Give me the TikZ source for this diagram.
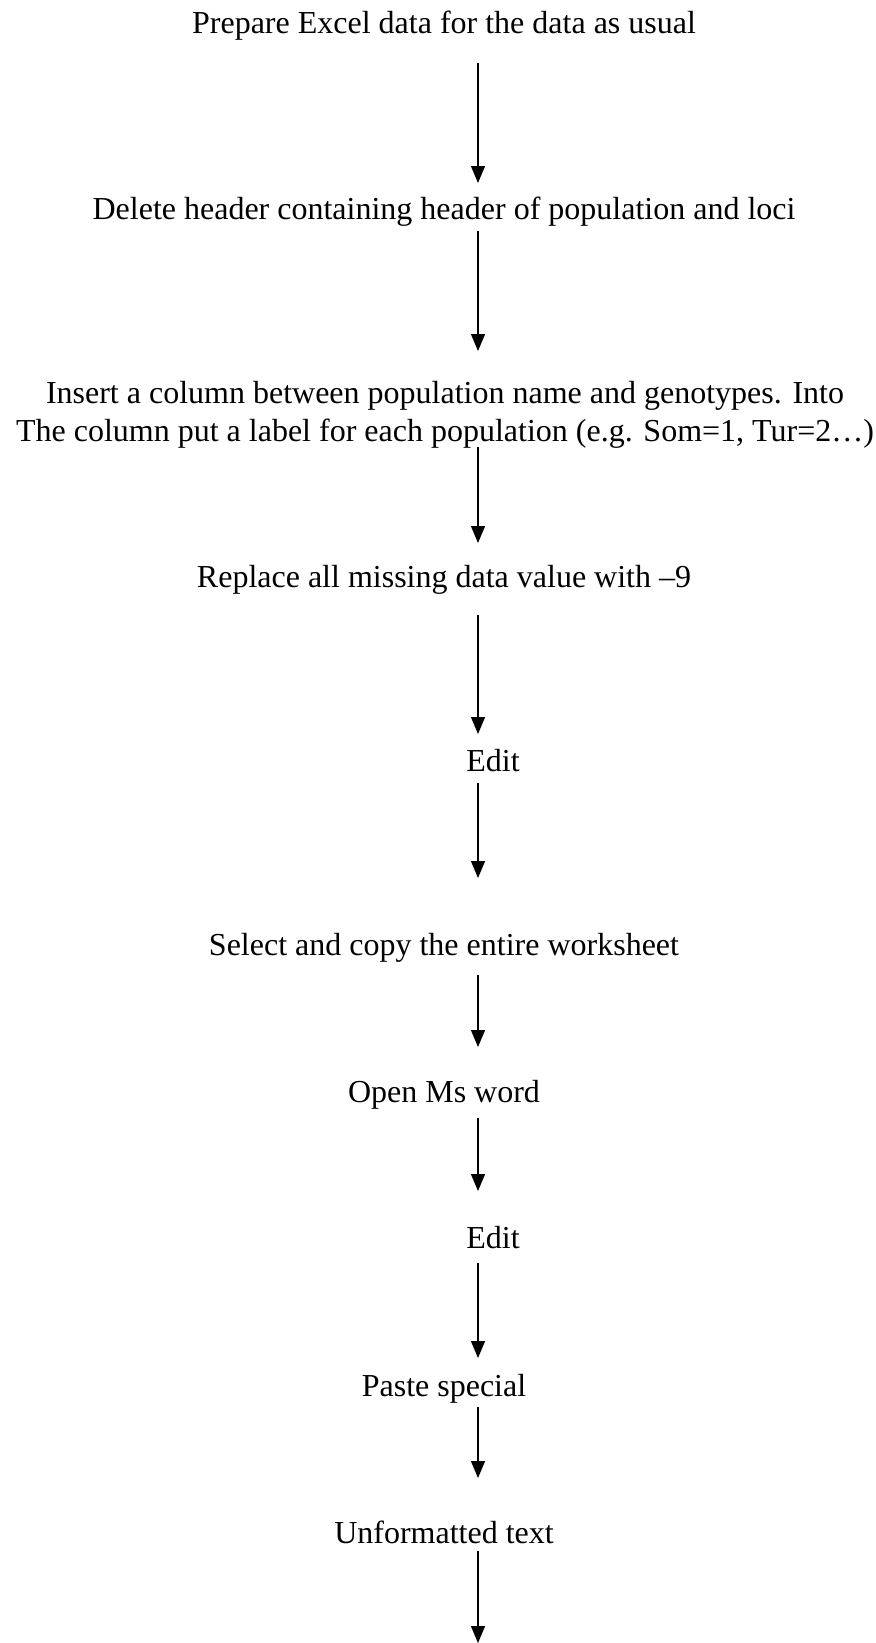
\documentclass[tikz,border=0pt]{standalone}
\usepackage{fontspec}
\setmainfont{Liberation Serif}
\usetikzlibrary{arrows.meta}

\tikzset{
  steptxt/.style={anchor=base, inner sep=0pt, align=center,
    font=\fontsize{16}{19}\selectfont},
  flow/.style={line width=0.65pt, -{Triangle[length=8.5pt,width=7pt]}}
}

\begin{document}
\begin{tikzpicture}[x=0.5pt,y=-0.5pt]
\useasboundingbox (0,0) rectangle (876,1643);
\coordinate (col) at (478,0);
% steps
\node[steptxt] (prep) at (444,34) {Prepare Excel data for the data as usual};
\node[steptxt] (delhdr) at (444,219) {Delete header containing header of population and loci};
\node[steptxt] (inscol) at (445,441) {Insert a column between population name and genotypes. Into\\The column put a label for each population (e.g. Som=1, Tur=2\ldots)};
\node[steptxt] (repl) at (444,587) {Replace all missing data value with \textendash9};
\node[steptxt] (editA) at (493,771) {Edit};
\node[steptxt] (selcopy) at (444,955) {Select and copy the entire worksheet};
\node[steptxt] (openword) at (444,1102) {Open Ms word};
\node[steptxt] (editB) at (493,1248) {Edit};
\node[steptxt] (paste) at (444,1396) {Paste special};
\node[steptxt] (unform) at (444,1543) {Unformatted text};
\coordinate (bottom) at (478,1643);
% arrows
\draw[flow] ([yshift=-14.5pt]prep.base -| col) -- ([yshift=18pt]delhdr.base -| col);
\draw[flow] ([yshift=-6pt]delhdr.base -| col) -- ([yshift=45pt]inscol.base -| col);
\draw[flow] ([yshift=-3pt]inscol.base -| col) -- ([yshift=22pt]repl.base -| col);
\draw[flow] ([yshift=-14pt]repl.base -| col) -- ([yshift=18.5pt]editA.base -| col);
\draw[flow] ([yshift=-6pt]editA.base -| col) -- ([yshift=38.5pt]selcopy.base -| col);
\draw[flow] ([yshift=-10pt]selcopy.base -| col) -- ([yshift=27.5pt]openword.base -| col);
\draw[flow] ([yshift=-8pt]openword.base -| col) -- ([yshift=28.5pt]editB.base -| col);
\draw[flow] ([yshift=-7.5pt]editB.base -| col) -- ([yshift=19pt]paste.base -| col);
\draw[flow] ([yshift=-5.5pt]paste.base -| col) -- ([yshift=32.5pt]unform.base -| col);
\draw[flow] ([yshift=-4pt]unform.base -| col) -- (bottom);
\end{tikzpicture}
\end{document}
